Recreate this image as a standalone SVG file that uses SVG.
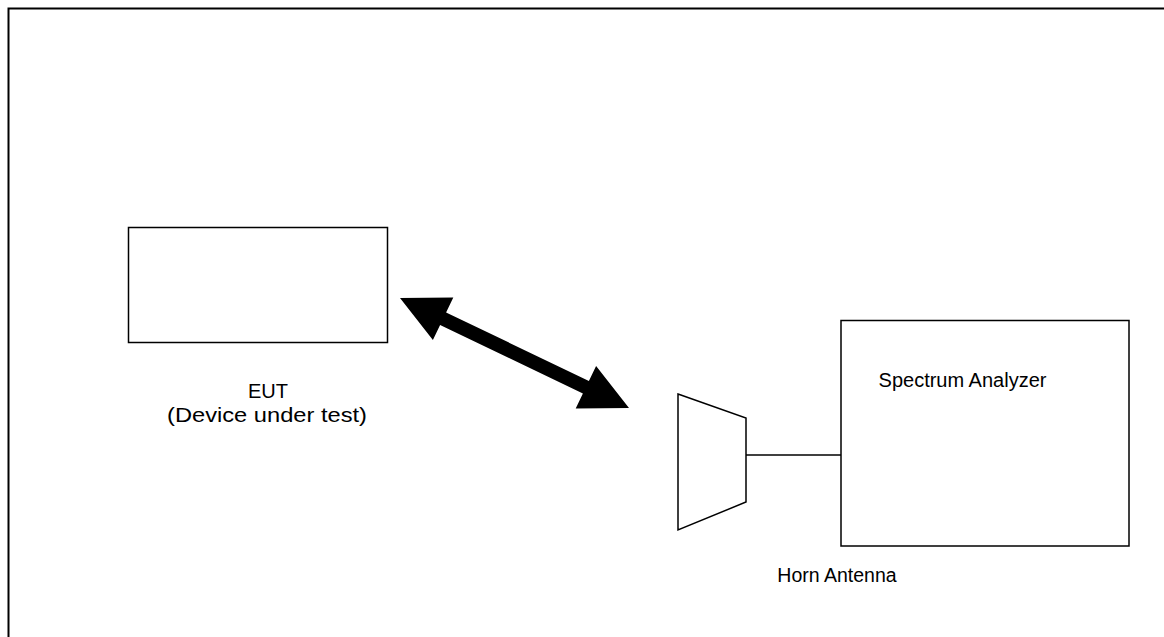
<svg xmlns="http://www.w3.org/2000/svg" width="1164" height="637" viewBox="0 0 1164 637">
<style>
.box{fill:#fff;stroke:#000;stroke-width:1.5}
.ln{fill:none;stroke:#000;stroke-width:1.5}
.lbl{font-family:"Liberation Sans",Arial,sans-serif;font-size:19.5px;fill:#000;text-anchor:middle}
</style>
<rect x="0" y="0" width="1164" height="637" fill="#fff"/>
<g id="frame"><rect x="8.5" y="8.5" width="1170" height="640" fill="none" stroke="#000" stroke-width="2"/></g>
<g id="eut">
<rect class="box" x="128.5" y="227.5" width="259" height="115"/>
<text class="lbl" x="268" y="398" style="font-size:20px">EUT</text>
<text class="lbl" x="267" y="422" style="font-size:20px" textLength="200" lengthAdjust="spacingAndGlyphs">(Device under test)</text>
</g>
<g id="horn">
<polygon class="box" points="678,394 746,418 746,502 678,530"/>
<text class="lbl" x="837" y="582">Horn Antenna</text>
</g>
<g id="analyzer">
<rect class="box" x="841" y="320.5" width="288" height="225.5"/>
<text class="lbl" x="962.5" y="387" style="font-size:20px">Spectrum Analyzer</text>
</g>
<g id="connectors">
<polygon fill="#000" points="400,298 453.3,297.5 446.1,312.4 588.9,381 596.1,366.1 629,408 575.7,408.5 582.9,393.6 440.1,325 432.9,339.9"/>
<line class="ln" x1="746" y1="455" x2="841" y2="455"/>
</g>
</svg>
